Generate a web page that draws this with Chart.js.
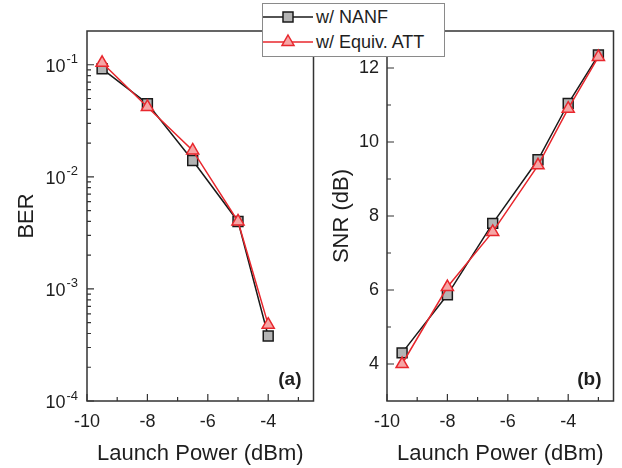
<!DOCTYPE html>
<html>
<head>
<meta charset="utf-8">
<script src="https://cdn.jsdelivr.net/npm/chart.js@4"></script>
<style>
  html, body { margin: 0; padding: 0; background: #fff; }
  body { width: 622px; height: 468px; position: relative; overflow: hidden;
         font-family: "Liberation Sans", Arial, sans-serif; }
  .panel { position: absolute; top: 0; width: 322px; height: 468px; }
  #legend { position: absolute; left: 262px; top: 3px; width: 181px; height: 52px;
            border: 1px solid #8a8a8a; background: #fff; z-index: 2;
            font-size: 18px; color: #1e1e1e; }
  .row { position: absolute; left: 0; height: 24px; display: flex; align-items: center; white-space: nowrap; }
  .row svg { width: 52px; height: 24px; margin-right: 1px; }
</style>
</head>
<body>
<div class="panel" style="left:0"><canvas id="berChart"></canvas></div>
<div class="panel" style="left:300px"><canvas id="snrChart"></canvas></div>
<div id="legend">
  <div class="row" style="top:1px">
    <svg viewBox="0 0 52 24"><line x1="0" y1="12" x2="50" y2="12" stroke="#1a1a1a" stroke-width="1.5"/>
      <rect x="20" y="7" width="10" height="10" fill="#b4b4b4" stroke="#1a1a1a" stroke-width="1.5"/></svg>
    <span>w/ NANF</span>
  </div>
  <div class="row" style="top:26px">
    <svg viewBox="0 0 52 24"><line x1="0" y1="12" x2="50" y2="12" stroke="#e8272d" stroke-width="1.5"/>
      <polygon points="25,5 31,15.5 19,15.5" fill="#f6a5a5" stroke="#e8272d" stroke-width="1.5"/></svg>
    <span>w/ Equiv. ATT</span>
  </div>
</div>
<script>
// ── Data ───────────────────────────────────────────────────────────────────
const BER_X    = [-9.5, -8, -6.5, -5, -4];
const BER_NANF = [0.092, 0.045, 0.014, 0.0040, 0.00038];
const BER_ATT  = [0.104, 0.042, 0.0172, 0.0040, 0.00048];

const SNR_X    = [-9.5, -8, -6.5, -5, -4, -3];
const SNR_NANF = [4.3, 5.87, 7.8, 9.52, 11.04, 12.35];
const SNR_ATT  = [4.0, 6.08, 7.57, 9.37, 10.9, 12.3];

const X_TICKS   = [-10, -8, -6, -4];
const X_MINOR   = [-9, -7, -5, -3];
const BER_TICKS = [1e-4, 1e-3, 1e-2, 1e-1];
const SNR_TICKS = [4, 6, 8, 10, 12];
const SNR_MINOR = [5, 7, 9, 11];

// ── Style ──────────────────────────────────────────────────────────────────
const TEXT = '#1e1e1e';
const AXIS = '#333';
const FONT = '"Liberation Sans", Arial, sans-serif';

const NANF_STYLE = { label: 'w/ NANF', line: '#1a1a1a', fill: '#b4b4b4', shape: 'rect', order: 2 };
const ATT_STYLE  = { label: 'w/ Equiv. ATT', line: '#e8272d', fill: '#f6a5a5', shape: 'triangle', order: 1 };

Chart.defaults.font.family = FONT;
Chart.defaults.color = TEXT;

// log minor ticks: 2..9 x 10^k inside the axis range
const BER_MINOR = [];
for (let k = -4; k <= -1; k++) {
  for (let m = 2; m <= 9; m++) {
    const v = m * Math.pow(10, k);
    if (v < 0.2) BER_MINOR.push(v);
  }
}

function series(xs, ys, st) {
  return {
    label: st.label,
    data: xs.map((x, i) => ({ x: x, y: ys[i] })),
    borderColor: st.line,
    borderWidth: 1.5,
    backgroundColor: st.fill,
    pointStyle: st.shape,
    pointRadius: 7,
    pointBorderWidth: 1.5,
    pointBorderColor: st.line,
    pointBackgroundColor: st.fill,
    tension: 0,
    order: st.order,
  };
}

// frame box, inward ticks, power-of-ten labels and panel tag
function frameDecor(cfg) {
  return {
    id: 'frameDecor',
    afterDraw(chart) {
      const { ctx, chartArea: a } = chart;
      const sx = chart.scales.x, sy = chart.scales.y;
      ctx.save();
      ctx.strokeStyle = AXIS;
      ctx.lineWidth = 1.5;
      ctx.strokeRect(a.left, a.top, a.right - a.left, a.bottom - a.top);

      ctx.lineWidth = 1.2;
      ctx.beginPath();
      const xt = (v, len) => { const p = sx.getPixelForValue(v); ctx.moveTo(p, a.bottom); ctx.lineTo(p, a.bottom - len); };
      const yt = (v, len) => { const p = sy.getPixelForValue(v); ctx.moveTo(a.left, p); ctx.lineTo(a.left + len, p); };
      X_TICKS.forEach(v => xt(v, 7));
      X_MINOR.forEach(v => xt(v, 4));
      cfg.yMajor.forEach(v => yt(v, 7));
      cfg.yMinor.forEach(v => yt(v, 4));
      ctx.stroke();

      ctx.fillStyle = TEXT;
      if (cfg.powers) {
        cfg.yMajor.forEach(v => {
          const p = sy.getPixelForValue(v);
          const exp = String(Math.round(Math.log10(v)));
          const right = a.left - 9;
          ctx.font = '13px ' + FONT;
          const ew = ctx.measureText(exp).width;
          ctx.textAlign = 'left';
          ctx.textBaseline = 'middle';
          ctx.fillText(exp, right - ew, p - 5);
          ctx.font = '18px ' + FONT;
          ctx.textAlign = 'right';
          ctx.fillText('10', right - ew - 1, p + 2);
        });
      }

      ctx.font = 'bold 19px ' + FONT;
      ctx.textAlign = 'right';
      ctx.textBaseline = 'middle';
      ctx.fillText(cfg.tag, a.right - 12, a.bottom - 21);
      ctx.restore();
    }
  };
}

function buildChart(id, xs, nanf, att, yOpts, decor) {
  return new Chart(document.getElementById(id), {
    type: 'line',
    data: { datasets: [series(xs, nanf, NANF_STYLE), series(xs, att, ATT_STYLE)] },
    options: {
      responsive: true,
      maintainAspectRatio: false,
      animation: false,
      layout: { padding: { left: 0, top: 31, right: 5, bottom: 0 } },
      plugins: { legend: { display: false }, tooltip: { enabled: false } },
      scales: {
        x: {
          type: 'linear', min: -10, max: -2.5,
          afterBuildTicks: s => { s.ticks = X_TICKS.map(v => ({ value: v })); },
          afterFit: s => { s.height = 67; },
          grid: { display: false, drawTicks: false },
          border: { display: false },
          ticks: { padding: 10, font: { size: 18 }, color: TEXT },
          title: { display: true, text: 'Launch Power (dBm)', font: { size: 22 }, color: TEXT, padding: { top: 0, bottom: 1 } }
        },
        y: Object.assign({
          afterFit: s => { s.width = 87; },
          grid: { display: false, drawTicks: false },
          border: { display: false },
        }, yOpts)
      }
    },
    plugins: [frameDecor(decor)]
  });
}

// ── Charts ─────────────────────────────────────────────────────────────────
buildChart('berChart', BER_X, BER_NANF, BER_ATT, {
  type: 'logarithmic', min: 1e-4, max: 0.2,
  afterBuildTicks: s => { s.ticks = BER_TICKS.map(v => ({ value: v })); },
  ticks: { display: false },
  title: { display: true, text: 'BER', font: { size: 22 }, color: TEXT, padding: { top: 14, bottom: 0 } }
}, { yMajor: BER_TICKS, yMinor: BER_MINOR, powers: true, tag: '(a)' });

buildChart('snrChart', SNR_X, SNR_NANF, SNR_ATT, {
  type: 'linear', min: 3, max: 13,
  afterBuildTicks: s => { s.ticks = SNR_TICKS.map(v => ({ value: v })); },
  ticks: { padding: 8, font: { size: 18 }, color: TEXT },
  title: { display: true, text: 'SNR (dB)', font: { size: 22 }, color: TEXT, padding: { top: 29, bottom: 0 } }
}, { yMajor: SNR_TICKS, yMinor: SNR_MINOR, powers: false, tag: '(b)' });
</script>
</body>
</html>
